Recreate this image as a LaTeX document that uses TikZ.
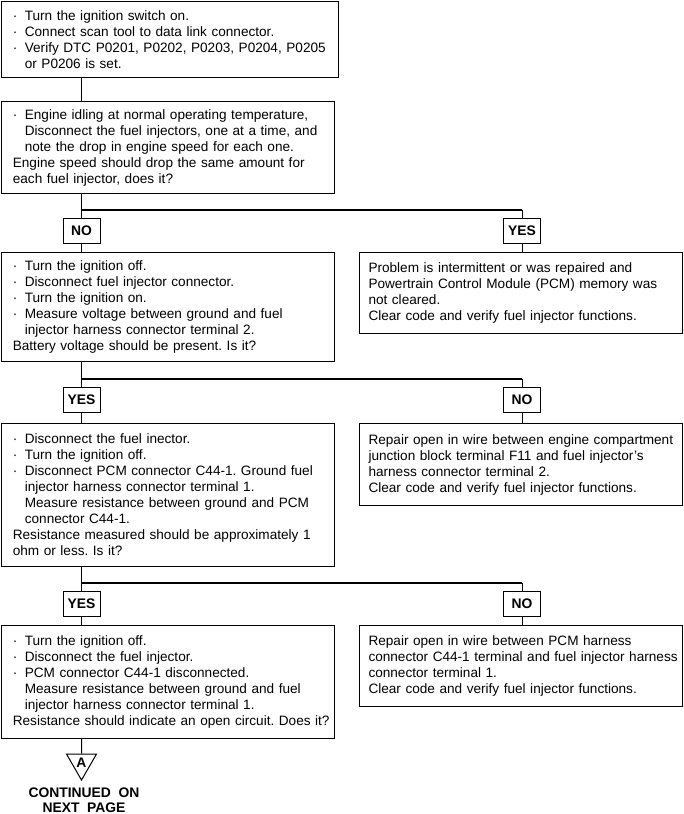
\documentclass[tikz,border=0pt]{standalone}
\usepackage{fontspec}
\setmainfont{Liberation Sans}
\usetikzlibrary{shapes.geometric}

\newcommand{\itm}{\makebox[9pt][l]{·}}
\newcommand{\ind}{\hspace*{9pt}}

\begin{document}
\begin{tikzpicture}[x=0.75pt, y=-0.75pt,
  every node/.style={font=\fontsize{10.2}{12}\selectfont},
  leftbox/.style={draw, line width=0.75pt, anchor=north west, align=left,
    inner xsep=0pt, inner ysep=0pt,
    execute at begin node={\frenchspacing\leftskip=8.5pt\rightskip=0pt plus 1fil minus 6pt}},
  rightbox/.style={leftbox,
    execute at begin node={\frenchspacing\leftskip=6.75pt\rightskip=0pt plus 1fil minus 6pt}},
  tag/.style={draw, line width=0.75pt, minimum width=27.75pt, minimum height=18.75pt,
    inner sep=0pt, font=\fontsize{10.4}{12}\selectfont\bfseries},
  link/.style={line width=0.75pt},
  splitline/.style={line width=1.5pt}]
  \useasboundingbox (0,0) rectangle (683,814);
  % left column of checks
  \node[leftbox, text width=252.75pt, minimum height=57pt] (step1) at (1,1) {%
    \itm Turn the ignition switch on.\\
    \itm Connect scan tool to data link connector.\\
    \itm Verify DTC P0201, P0202, P0203, P0204, P0205\\
    \ind or P0206 is set.};
  \node[leftbox, text width=249.75pt, minimum height=69pt] (step2) at (1,101) {%
    \itm Engine idling at normal operating temperature,\\
    \ind Disconnect the fuel injectors, one at a time, and\\
    \ind note the drop in engine speed for each one.\\
    Engine speed should drop the same amount for\\
    each fuel injector, does it?};
  \node[leftbox, text width=249.75pt, minimum height=81.75pt] (step3) at (1,252) {%
    \itm Turn the ignition off.\\
    \itm Disconnect fuel injector connector.\\
    \itm Turn the ignition on.\\
    \itm Measure voltage between ground and fuel\\
    \ind injector harness connector terminal 2.\\
    Battery voltage should be present. Is it?};
  \node[leftbox, text width=249.75pt, minimum height=107.25pt] (step4) at (1,423) {%
    \itm Disconnect the fuel inector.\\
    \itm Turn the ignition off.\\
    \itm Disconnect PCM connector C44-1. Ground fuel\\
    \ind injector harness connector terminal 1.\\
    \ind Measure resistance between ground and PCM\\
    \ind connector C44-1.\\
    Resistance measured should be approximately 1\\
    ohm or less. Is it?};
  \node[leftbox, text width=249.75pt, minimum height=84.75pt] (step5) at (1,625) {%
    \itm Turn the ignition off.\\
    \itm Disconnect the fuel injector.\\
    \itm PCM connector C44-1 disconnected.\\
    \ind Measure resistance between ground and fuel\\
    \ind injector harness connector terminal 1.\\
    Resistance should indicate an open circuit. Does it?};
  % right column of repairs
  \node[rightbox, text width=242.25pt, minimum height=60.75pt] (fix1) at (359,252) {%
    Problem is intermittent or was repaired and\\
    Powertrain Control Module (PCM) memory was\\
    not cleared.\\
    Clear code and verify fuel injector functions.};
  \node[rightbox, text width=242.25pt, minimum height=61.5pt] (fix2) at (359,423) {%
    Repair open in wire between engine compartment\\
    junction block terminal F11 and fuel injector's\\
    harness connector terminal 2.\\
    Clear code and verify fuel injector functions.};
  \node[rightbox, text width=242.25pt, minimum height=60.75pt] (fix3) at (359,625) {%
    Repair open in wire between PCM harness\\
    connector C44-1 terminal and fuel injector harness\\
    connector terminal 1.\\
    Clear code and verify fuel injector functions.};
  % branches
  \draw[link] (step1.south -| 81.5,0) -- (step2.north -| 81.5,0);
  \foreach \i/\s/\lab/\rab in {1/210/NO/YES, 2/379/YES/NO, 3/583/YES/NO} {
    \pgfmathtruncatemacro{\ia}{\i+1}
    \pgfmathtruncatemacro{\ib}{\i+2}
    \coordinate (sl\i) at (81.5,\s);
    \coordinate (sr\i) at (522,\s);
    \node[tag] (lt\i) at (81.5,\s+20.5) {\lab};
    \node[tag] (rt\i) at (522,\s+20.5) {\rab};
    \draw[link] (step\ia.south -| sl\i) -- (lt\i.north);
    \draw[splitline] (sl\i) -- (sr\i);
    \draw[link] (sr\i) -- (rt\i.north);
    \draw[link] (lt\i.south) -- (step\ib.north -| lt\i);
    \draw[link] (rt\i.south) -- (fix\i.north -| rt\i);
  }
  % off-page connector
  \node[draw, line width=0.75pt, regular polygon, regular polygon sides=3,
    shape border rotate=180, minimum size=26pt, inner sep=0pt,
    font=\fontsize{10.4}{12}\selectfont\bfseries] (contA) at (81.5,762.7) {A};
  \draw[link] (step5.south -| contA) -- (contA.north);
  \node[align=center, inner sep=0pt, font=\fontsize{10.4}{11.25}\selectfont\bfseries]
    (contnote) at (84,800.5) {CONTINUED~ ON\\NEXT~ PAGE};
\end{tikzpicture}
\end{document}
